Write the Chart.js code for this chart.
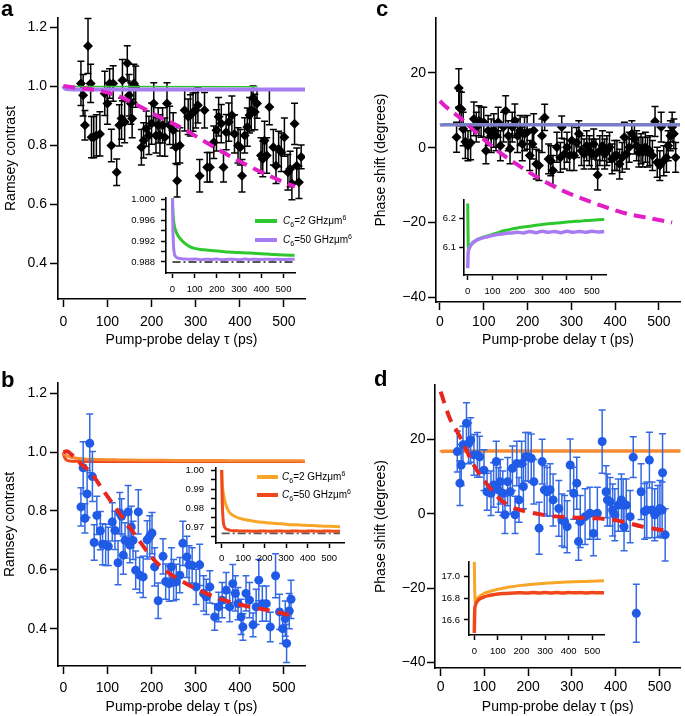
<!DOCTYPE html>
<html><head><meta charset="utf-8">
<script src="https://cdn.jsdelivr.net/npm/chart.js@4.4.1/dist/chart.umd.min.js"></script>
<style>
html,body{margin:0;padding:0;background:#fff;}
#wrap{position:relative;width:685px;height:716px;overflow:hidden;font-family:"Liberation Sans",Arial,sans-serif;color:#000;}
canvas{position:absolute;left:0;top:0;}
.lbl{position:absolute;font-weight:bold;font-size:22px;line-height:22px;}
.leg{position:absolute;font-size:10px;line-height:10px;white-space:nowrap;}
.leg sub,.leg sup{font-size:7px;line-height:0;}
.sw{position:absolute;height:3.5px;}
</style></head><body><div id="wrap">
<canvas id="ca" width="685" height="716"></canvas>
<canvas id="cb" width="685" height="716"></canvas>
<canvas id="cc" width="685" height="716"></canvas>
<canvas id="cd" width="685" height="716"></canvas>
<canvas id="ia" width="685" height="716"></canvas>
<canvas id="ib" width="685" height="716"></canvas>
<canvas id="ic" width="685" height="716"></canvas>
<canvas id="id" width="685" height="716"></canvas>
<div class="lbl" style="left:1px;top:-2px">a</div>
<div class="lbl" style="left:1px;top:369px">b</div>
<div class="lbl" style="left:376px;top:-2px">c</div>
<div class="lbl" style="left:374px;top:368px">d</div>
<div class="sw" style="left:255px;top:219px;width:22px;background:#2ec82e"></div>
<div class="sw" style="left:255px;top:238px;width:22px;background:#a77cf2"></div>
<div class="leg" style="left:283px;top:216px"><i>C</i><sub>6</sub>=2 GHzμm<sup>6</sup></div>
<div class="leg" style="left:283px;top:235px"><i>C</i><sub>6</sub>=50 GHzμm<sup>6</sup></div>
<div class="sw" style="left:257px;top:475px;width:21px;background:#f8a628"></div>
<div class="sw" style="left:257px;top:493px;width:21px;background:#f0481a"></div>
<div class="leg" style="left:282px;top:472px"><i>C</i><sub>6</sub>=2 GHzμm<sup>6</sup></div>
<div class="leg" style="left:282px;top:490px"><i>C</i><sub>6</sub>=50 GHzμm<sup>6</sup></div>
</div>
<script>
// ---------------- data ----------------
const X_TICKS = [0,100,200,300,400,500];
const X_LABELS = ['0','100','200','300','400','500'];
const AB_Y_TICKS = [0.4,0.6,0.8,1.0,1.2];
const AB_Y_LABELS = ['0.4','0.6','0.8','1.0','1.2'];
const CD_Y_TICKS = [-40,-20,0,20];
const CD_Y_LABELS = ['\u221240','\u221220','0','20'];
const IA_Y_TICKS = [0.988,0.990,0.992,0.994,0.996,0.998,1.000];
const IA_Y_LABELS = ['0.988','','0.992','','0.996','','1.000'];
const IB_Y_TICKS = [0.965,0.97,0.975,0.98,0.985,0.99,0.995,1.0];
const IB_Y_LABELS = ['','0.97','','0.98','','0.99','','1.00'];
const IC_Y_TICKS = [6.1,6.2];
const IC_Y_LABELS = ['6.1','6.2'];
const ID_Y_TICKS = [16.6,16.8,17.0];
const ID_Y_LABELS = ['16.6','16.8','17.0'];

// panel a: Ramsey contrast (black diamonds)
const A_T = [40,45,49,56,62,64,69,75,83,94,100,105,109,113,121,127,132,134,139,145,149,153,156,160,164,177,182,188,194,200,205,210,215,219,225,230,235,241,249,255,258,264,275,283,288,294,300,305,309,320,326,332,341,347,352,358,363,369,375,382,388,396,401,405,411,417,422,426,430,434,439,448,452,456,461,467,476,482,488,494,501,509,514,518,524,529,534,539];
const A_Y = [1.009,0.969,0.867,1.136,1.009,0.827,0.827,0.833,0.838,0.975,0.941,1.009,0.799,1.009,0.708,0.867,0.89,1.02,0.878,1.077,0.969,0.941,0.89,1.009,0.998,0.793,0.816,0.856,0.833,0.873,0.941,0.833,0.867,0.833,0.867,0.827,0.941,0.867,0.85,0.793,0.679,0.799,0.918,0.896,0.901,0.912,0.918,0.935,0.696,0.918,0.725,0.725,0.81,0.85,0.896,0.873,0.725,0.844,0.878,0.901,0.838,0.799,0.793,0.696,0.833,0.861,0.901,0.918,0.96,0.912,0.941,0.765,0.753,0.816,0.765,0.929,0.793,0.73,0.787,0.776,0.827,0.708,0.719,0.67,0.872,0.73,0.674,0.76];
const A_ERR = [0.075,0.07,0.05,0.093,0.065,0.07,0.07,0.07,0.075,0.075,0.07,0.05,0.055,0.06,0.045,0.07,0.07,0.07,0.07,0.06,0.07,0.07,0.065,0.065,0.07,0.06,0.06,0.06,0.065,0.07,0.07,0.06,0.06,0.07,0.06,0.065,0.07,0.065,0.06,0.055,0.055,0.06,0.07,0.06,0.07,0.065,0.06,0.06,0.055,0.06,0.05,0.05,0.055,0.07,0.065,0.065,0.05,0.06,0.065,0.065,0.065,0.06,0.06,0.055,0.06,0.065,0.06,0.07,0.04,0.06,0.05,0.06,0.06,0.065,0.06,0.06,0.06,0.06,0.06,0.065,0.065,0.06,0.06,0.055,0.07,0.06,0.055,0.04];
const A_FIT_T = [0,40,87,128,166,218,271,316,369,415,467,520,525];
const A_FIT = [1.0,0.993,0.983,0.964,0.937,0.895,0.856,0.816,0.77,0.733,0.696,0.662,0.659];
const A_MAIN_GREEN_T = [0,440];
const A_MAIN_GREEN = [0.9985,0.9975];

// panel b: Ramsey contrast (blue circles)
const B_T = [40,45,49,54,60,66,70,76,84,89,96,102,111,117,124,128,132,136,140,147,151,154,158,164,170,173,181,190,196,201,207,215,226,232,240,245,250,256,264,271,280,285,292,301,309,318,324,332,343,352,360,369,377,384,390,396,403,407,414,422,430,437,443,451,460,469,481,490,497,503,506,512,516];
const B_Y = [0.814,0.947,0.775,0.858,1.03,0.917,0.693,0.785,0.733,0.687,0.685,0.68,0.763,0.734,0.624,0.793,0.782,0.65,0.70,0.797,0.684,0.746,0.70,0.599,0.797,0.582,0.576,0.702,0.714,0.725,0.61,0.495,0.646,0.56,0.553,0.61,0.565,0.559,0.582,0.69,0.644,0.617,0.615,0.542,0.617,0.52,0.508,0.542,0.44,0.474,0.497,0.531,0.474,0.553,0.52,0.485,0.44,0.406,0.52,0.497,0.413,0.474,0.565,0.485,0.485,0.406,0.58,0.457,0.40,0.434,0.35,0.46,0.50];
const B_ERR = [0.065,0.088,0.05,0.08,0.1,0.085,0.06,0.065,0.065,0.07,0.07,0.065,0.065,0.065,0.075,0.07,0.06,0.065,0.06,0.09,0.06,0.07,0.065,0.065,0.075,0.06,0.07,0.065,0.07,0.07,0.065,0.06,0.06,0.06,0.06,0.065,0.07,0.06,0.06,0.075,0.07,0.065,0.06,0.06,0.07,0.06,0.06,0.055,0.045,0.05,0.06,0.06,0.05,0.065,0.06,0.055,0.06,0.045,0.06,0.06,0.04,0.06,0.07,0.06,0.06,0.05,0.075,0.06,0.05,0.06,0.065,0.06,0.065];
const B_FIT_T = [0,8,20,40,60,90,128,166,203,241,279,316,354,392,430,467,505,524];
const B_FIT = [1.0,1.003,0.99,0.96,0.935,0.871,0.791,0.712,0.638,0.587,0.553,0.525,0.502,0.485,0.472,0.462,0.449,0.44];

// panel c: phase shift (black diamonds)
const C_T = [38,43,45,49,53,58,64,70,77.5,83,89,94,100,105,110,117,123,128,133,138,145,150,156,160,165,171,177,183,188,193,199,205,211,214,220,226,233,239,248,253,258,267,275,278,284,290,296,301,306,312,317,323,329,335,341,346,351,356,360,365,371,376,381,387,393,399,404,410,416,421,426,432,438,444,449,454,459,463,469,474,479,485,491,496,502,505,511,517,521,526,530,534,538];
const C_Y = [2.8,16.0,10.6,10.3,5.0,1.6,0.5,1.3,7.7,5.5,7.2,6.8,6.8,-0.8,4.6,3.2,4.6,3.2,6.8,0.5,5.5,9.9,3.2,-0.3,5.5,7.2,3.2,4.6,1.0,3.7,4.1,-2.1,1.0,4.6,-4.4,-4.8,3.2,8.1,-3.0,-3.5,-6.1,0.1,-2.6,5.5,-1.7,0.1,-2.1,1.9,-2.1,1.4,3.7,-0.8,-1.7,0.5,-0.8,-1.7,1.0,-1.7,-7.3,-0.8,0.5,-1.7,-0.8,0.1,-3.0,-2.1,-2.1,-4.4,-2.6,2.8,-1.7,0.1,3.7,2.3,0.5,-1.2,-0.3,-1.2,0.1,-1.2,-0.8,-2.1,7.0,-3.9,-4.8,5.5,-3.5,-2.6,0.5,3.2,5.5,3.7,-2.6];
const C_ERR = [4.0,5.1,4.5,4.5,4.5,4.5,4.0,4.5,4.5,4.0,4.0,4.0,4.0,3.5,4.0,4.5,4.5,4.0,4.0,4.0,4.0,4.0,4.0,4.0,4.0,4.5,4.5,4.0,4.5,4.5,4.5,4.0,4.0,4.5,4.0,4.0,4.5,3.5,4.0,4.0,4.0,4.0,4.0,3.0,4.0,4.0,4.0,4.0,4.0,4.0,3.5,4.0,4.0,4.0,4.0,4.0,4.0,4.0,4.0,4.0,4.0,4.0,4.0,4.0,4.0,4.0,4.0,4.0,4.0,4.0,4.0,4.0,3.5,4.0,4.0,4.0,4.0,4.0,4.0,4.0,4.0,4.0,4.0,4.0,4.0,4.0,4.0,4.0,4.0,4.0,4.0,4.0,4.0];
const C_FIT_T = [0,11,49,86,131,180,229,280,328,380,425,480,530];
const C_FIT = [12.5,11.2,7.7,3.7,-0.8,-4.8,-8.4,-11.5,-13.8,-16.0,-17.6,-18.9,-20.0];

// panel d: phase shift (blue circles)
const D_T = [38,44,47,51,59,64,68.5,76,84,89,99,106,115,121,127,132,136,142,147,153,159,164,170,174,179,185,189,194,200,207,213,225,232,237,243,250,257,270,277,283,289,296,304,311,315,319,330,341,349,358,369,378,381,387,393,398,406,413,417,419,424,433,440,447,458,466,471,477,483,489,496,501,506,507,513];
const D_Y = [16.7,8.2,13.1,18.5,24.3,18.9,19.8,15.8,15.8,15.3,11.7,5.9,5.5,7.7,14.0,6.4,8.6,5.5,-0.3,8.6,5.9,12.2,-0.3,13.5,3.7,13.5,7.3,15.3,15.3,14.9,8.6,-3.9,14.0,6.4,5.9,6.4,3.7,1.4,-1.7,-2.1,-3.5,13.1,5.5,8.2,-7.5,-2.1,-0.8,0.1,-5.3,0.1,19.4,5.9,3.7,3.2,1.0,-0.3,2.3,3.7,2.3,-3.5,2.3,-0.8,15.2,-26.8,5.9,0.6,1.0,14.4,1.0,-0.3,0.6,1.4,1.0,11.0,-5.7];
const D_ERR = [5.5,6.0,5.5,5.0,5.5,5.5,6.0,5.5,6.0,5.5,5.5,5.0,6.0,6.0,5.5,6.0,6.0,6.0,5.0,6.5,6.0,6.0,5.0,6.0,6.0,6.0,6.0,6.5,6.5,6.5,6.0,7.0,6.0,6.5,6.5,7.0,7.0,7.5,7.0,7.0,7.0,7.0,7.0,7.0,5.0,7.0,7.5,7.0,6.0,7.0,8.5,7.0,7.0,6.5,7.0,7.0,7.0,7.0,7.0,6.5,7.0,7.0,5.5,7.8,7.5,7.5,7.5,7.5,7.5,7.0,7.0,7.5,7.5,10.5,7.0];
const D_FIT_T = [0,21,40,55,78,104,134,160,198,251,304,349,402,462,515,525];
const D_FIT = [32.8,25.6,21.6,18.0,12.6,8.2,4.1,1.9,0.5,-0.6,-1.0,-1.2,-1.8,-3.5,-4.6,-4.9];

// simulated curves (insets + main overlays)
const T_SIM = [0,1,2,4,6,8,10,15,20,30,40,60,80,100,125,150,175,200,225,250,275,300,325,350,375,400,425,450,475,500,525,550];
const A_GREEN = [1.0002,0.9985,0.9975,0.9963,0.9955,0.9950,0.9946,0.9939,0.9934,0.9927,0.9922,0.9914,0.9909,0.9906,0.9904,0.9903,0.9902,0.9901,0.9900,0.9899,0.98985,0.9898,0.98975,0.9897,0.98962,0.98955,0.9895,0.98945,0.9894,0.98935,0.9893,0.9893];
const A_PURPLE = [1.0002,0.9965,0.9940,0.9915,0.9903,0.9897,0.9893,0.9890,0.9888,0.9887,0.9886,0.98855,0.9885,0.98858,0.98845,0.98852,0.98848,0.98855,0.98845,0.98852,0.9885,0.98845,0.98855,0.98848,0.98852,0.98846,0.98854,0.98848,0.98852,0.98846,0.98853,0.9885];
const A_LIMIT_T = [0,550];
const A_LIMIT = [0.988,0.988];
const B_ORANGE = [1.0,0.997,0.994,0.991,0.989,0.9875,0.9862,0.9835,0.9815,0.979,0.9773,0.9758,0.9748,0.9742,0.9737,0.9732,0.9728,0.9725,0.9722,0.972,0.9718,0.9716,0.9714,0.9713,0.9711,0.971,0.9709,0.9707,0.9706,0.9705,0.9704,0.9703];
const B_RED = [1.0,0.992,0.986,0.979,0.975,0.9725,0.9712,0.9698,0.9692,0.9687,0.9684,0.9682,0.9681,0.968,0.9681,0.9679,0.968,0.9681,0.9679,0.968,0.9681,0.9679,0.968,0.9681,0.9679,0.968,0.9681,0.9679,0.968,0.9681,0.9679,0.968];
const B_LIMIT_T = [0,550];
const B_LIMIT = [0.9668,0.9668];
const C_GREEN = [6.25,6.18,6.11,6.095,6.098,6.102,6.106,6.112,6.117,6.123,6.128,6.135,6.14,6.145,6.152,6.158,6.163,6.167,6.170,6.173,6.176,6.179,6.181,6.183,6.185,6.187,6.189,6.19,6.192,6.193,6.195,6.196];
const C_PURPLE = [6.03,6.06,6.085,6.092,6.097,6.101,6.105,6.111,6.116,6.122,6.127,6.133,6.137,6.141,6.145,6.148,6.15,6.152,6.15,6.155,6.151,6.156,6.152,6.155,6.151,6.156,6.152,6.155,6.152,6.156,6.153,6.155];
const D_ORANGE = [17.14,17.0,16.85,16.76,16.76,16.78,16.79,16.805,16.815,16.83,16.845,16.86,16.873,16.885,16.895,16.905,16.913,16.92,16.925,16.93,16.935,16.94,16.943,16.946,16.949,16.951,16.953,16.955,16.957,16.959,16.961,16.963];
const D_RED = [16.48,16.62,16.70,16.73,16.745,16.755,16.765,16.78,16.79,16.803,16.812,16.825,16.833,16.84,16.845,16.848,16.85,16.852,16.849,16.854,16.85,16.855,16.85,16.853,16.849,16.855,16.851,16.854,16.85,16.853,16.851,16.852];

// ---------------- drawing ----------------
const W = 685, H = 716;
Chart.defaults.font.family = '"Liberation Sans", Arial, sans-serif';
Chart.defaults.color = '#000';

const errorBars = {
  id: 'errorBars',
  beforeDatasetDraw(chart, args) {
    const ds = chart.data.datasets[args.index];
    if (!ds.errors) return;
    const ctx = chart.ctx, a = chart.chartArea;
    const xs = chart.scales.x, ys = chart.scales.y;
    ctx.save();
    ctx.beginPath(); ctx.rect(a.left, a.top - 2, a.right - a.left, a.bottom - a.top + 2); ctx.clip();
    ctx.strokeStyle = ds.errorColor; ctx.lineWidth = 1.5;
    ds.data.forEach((p, i) => {
      const e = ds.errors[i];
      const x = xs.getPixelForValue(p.x);
      const y1 = ys.getPixelForValue(p.y + e), y2 = ys.getPixelForValue(p.y - e);
      ctx.beginPath();
      ctx.moveTo(x, y1); ctx.lineTo(x, y2);
      ctx.moveTo(x - 3.5, y1); ctx.lineTo(x + 3.5, y1);
      ctx.moveTo(x - 3.5, y2); ctx.lineTo(x + 3.5, y2);
      ctx.stroke();
    });
    ctx.restore();
  }
};
Chart.register(errorBars);

function pts(t, y) { return t.map((v, i) => ({x: v, y: y[i]})); }

function axis(o) {
  return {
    type: 'linear', position: o.pos, min: o.min, max: o.max, bounds: 'data',
    afterBuildTicks: s => { s.ticks = o.ticks.map(v => ({value: v})); },
    afterFit: s => {
      if (o.pos === 'left') s.width = o.size; else s.height = o.size;
      s.paddingTop = 0; s.paddingBottom = 0; s.paddingLeft = 0; s.paddingRight = 0;
    },
    ticks: { autoSkip: false, maxRotation: 0, minRotation: 0, padding: o.pad, color: '#000',
             font: {size: o.fs}, callback: (v, i) => o.labels[i] },
    grid: { display: true, drawOnChartArea: false, drawTicks: true, tickLength: o.tl,
            tickColor: '#000', tickWidth: 1.5 },
    border: { display: true, color: '#000', width: 1.6 },
    title: o.title ? { display: true, text: o.title, color: '#000', font: {size: 14}, padding: 0 }
                   : { display: false }
  };
}

function makeChart(id, box, xo, yo, datasets) {
  const padding = { left: box.L - yo.size, top: box.T, right: W - box.R, bottom: H - box.B - xo.size };
  return new Chart(document.getElementById(id), {
    type: 'scatter',
    data: { datasets },
    options: {
      responsive: false, animation: false, devicePixelRatio: 1, events: [],
      layout: { padding },
      plugins: { legend: { display: false }, tooltip: { enabled: false } },
      scales: { x: axis(Object.assign({pos: 'bottom'}, xo)), y: axis(Object.assign({pos: 'left'}, yo)) }
    }
  });
}

function line(t, y, color, width, order, dash) {
  return { type: 'line', data: pts(t, y), borderColor: color, borderWidth: width, pointRadius: 0,
           fill: false, cubicInterpolationMode: 'monotone', borderDash: dash || [], order: order };
}
function scatter(t, y, err, color, ecolor, style, radius, order) {
  return { type: 'scatter', data: pts(t, y), errors: err, errorColor: ecolor, pointStyle: style,
           pointRadius: radius, backgroundColor: color, borderColor: color, borderWidth: 0, order: order };
}

const XTITLE = 'Pump-probe delay \u03c4 (ps)';
const MAGENTA = '#e21fc7', RED = '#e8261e', PURPLE = '#a77cf2', GREEN = '#2ec82e';
const ORANGE_L = '#f8a628', RED_L = '#f0481a', ORANGE_MAIN = '#f68b32', SLATE = '#7a7ec4';
const BLUE = '#1f5be6', BLUE_E = '#3469e6';

// Panel a
makeChart('ca', {L: 58, T: 18, R: 305, B: 299},
  {min: -12, max: 547.7, ticks: X_TICKS, labels: X_LABELS, size: 49.4, fs: 14, tl: 8, pad: 6.3, title: XTITLE},
  {min: 0.2786, max: 1.2307, ticks: AB_Y_TICKS, labels: AB_Y_LABELS, size: 55.4, fs: 14, tl: 8, pad: 3, title: 'Ramsey contrast'},
  [ line(A_FIT_T, A_FIT, MAGENTA, 4, 0, [12, 7]),
    line(T_SIM, A_PURPLE, PURPLE, 4, 1),
    line(A_MAIN_GREEN_T, A_MAIN_GREEN, GREEN, 1.5, 2),
    scatter(A_T, A_Y, A_ERR, '#000', '#000', 'rectRot', 5, 3) ]);

// Panel b
makeChart('cb', {L: 58, T: 383, R: 305, B: 666},
  {min: -12, max: 547.7, ticks: X_TICKS, labels: X_LABELS, size: 49.4, fs: 14, tl: 8, pad: 5.3, title: XTITLE},
  {min: 0.2732, max: 1.235, ticks: AB_Y_TICKS, labels: AB_Y_LABELS, size: 56.4, fs: 14, tl: 8, pad: 3, title: 'Ramsey contrast'},
  [ line(B_FIT_T, B_FIT, RED, 4, 0, [12, 8]),
    scatter(B_T, B_Y, B_ERR, BLUE, BLUE_E, 'circle', 4.5, 1),
    line(T_SIM, B_ORANGE, ORANGE_MAIN, 3, 2),
    line(T_SIM, B_RED, RED_L, 3, 3) ]);

// Panel c
makeChart('cc', {L: 436, T: 18, R: 683, B: 302},
  {min: -9, max: 548, ticks: X_TICKS, labels: X_LABELS, size: 46.4, fs: 14, tl: 8, pad: 3.3, title: XTITLE},
  {min: -41.3, max: 34.7, ticks: CD_Y_TICKS, labels: CD_Y_LABELS, size: 62.9, fs: 14, tl: 8, pad: 2, title: 'Phase shift (degrees)'},
  [ line(C_FIT_T, C_FIT, MAGENTA, 4, 0, [12, 7]),
    line(T_SIM, C_PURPLE, SLATE, 3.5, 1),
    scatter(C_T, C_Y, C_ERR, '#000', '#000', 'rectRot', 5, 2) ]);

// Panel d
makeChart('cd', {L: 435, T: 385, R: 683, B: 668},
  {min: -12.9, max: 548, ticks: X_TICKS, labels: X_LABELS, size: 47.4, fs: 14, tl: 8, pad: 2.3, title: XTITLE},
  {min: -41.5, max: 34.6, ticks: CD_Y_TICKS, labels: CD_Y_LABELS, size: 62.4, fs: 14, tl: 8, pad: 1.5, title: 'Phase shift (degrees)'},
  [ line(D_FIT_T, D_FIT, RED, 4, 0, [12, 8]),
    scatter(D_T, D_Y, D_ERR, BLUE, BLUE_E, 'circle', 4.5, 1),
    line(T_SIM, D_RED, ORANGE_MAIN, 3.5, 2) ]);

// Inset a
makeChart('ia', {L: 166, T: 198, R: 295, B: 273},
  {min: -29.3, max: 551.8, ticks: X_TICKS, labels: X_LABELS, size: 20, fs: 9.5, tl: 5, pad: 5.6},
  {min: 0.9859, max: 1.0002, ticks: IA_Y_TICKS, labels: IA_Y_LABELS, size: 40, fs: 9.5, tl: 5, pad: 6},
  [ line(T_SIM, A_PURPLE, PURPLE, 3, 0),
    line(T_SIM, A_GREEN, GREEN, 3, 1),
    line(A_LIMIT_T, A_LIMIT, '#555', 1.8, 2, [8, 3, 2, 3]) ]);

// Inset b
makeChart('ib', {L: 216, T: 468, R: 344, B: 543},
  {min: -26.5, max: 568.8, ticks: X_TICKS, labels: X_LABELS, size: 20, fs: 9.5, tl: 5, pad: 4.6},
  {min: 0.96178, max: 1.00105, ticks: IB_Y_TICKS, labels: IB_Y_LABELS, size: 40, fs: 9.5, tl: 5, pad: 7},
  [ line(T_SIM, B_RED, RED_L, 3, 0),
    line(T_SIM, B_ORANGE, ORANGE_L, 3, 1),
    line(B_LIMIT_T, B_LIMIT, '#555', 1.8, 2, [8, 3, 2, 3]) ]);

// Inset c
makeChart('ic', {L: 463.3, T: 200, R: 606.7, B: 275},
  {min: -17.7, max: 560, ticks: X_TICKS, labels: X_LABELS, size: 20, fs: 9.5, tl: 5, pad: 6},
  {min: 6.0069, max: 6.262, ticks: IC_Y_TICKS, labels: IC_Y_LABELS, size: 30, fs: 9.5, tl: 4, pad: 3.3},
  [ line(T_SIM, C_PURPLE, PURPLE, 3.5, 0),
    line(T_SIM, C_GREEN, GREEN, 3, 1) ]);

// Inset d
makeChart('id', {L: 469, T: 561.7, R: 604.3, B: 635},
  {min: -22.5, max: 551, ticks: X_TICKS, labels: X_LABELS, size: 20, fs: 9.5, tl: 5, pad: 6},
  {min: 16.461, max: 17.139, ticks: ID_Y_TICKS, labels: ID_Y_LABELS, size: 34, fs: 9.5, tl: 5, pad: 4},
  [ line(T_SIM, D_RED, RED_L, 3.5, 0),
    line(T_SIM, D_ORANGE, ORANGE_L, 3, 1) ]);
</script>
</body></html>
